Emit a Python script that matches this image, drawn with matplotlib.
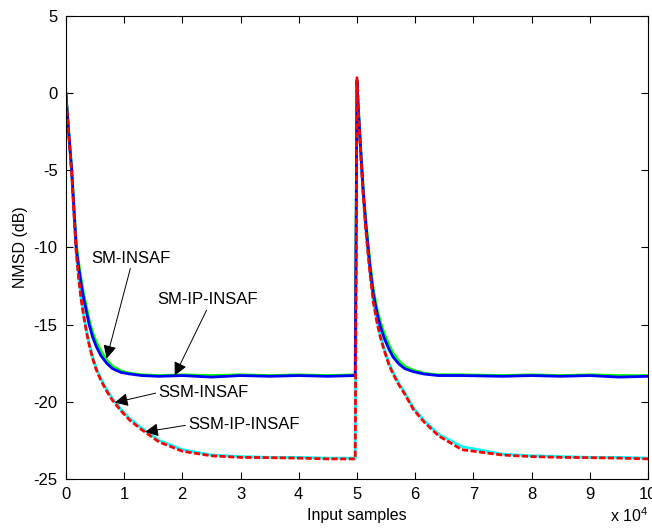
import numpy as np
import matplotlib
matplotlib.use("Agg")
import matplotlib.pyplot as plt
from matplotlib.ticker import FuncFormatter

plt.rcParams['font.family'] = ['Liberation Sans', 'DejaVu Sans']
plt.rcParams['mathtext.default'] = 'regular'
plt.rcParams['axes.unicode_minus'] = False

# sample positions (units of 1e4 samples), first run and offsets after the change at 5e4
n_seg1 = [0, 0.05, 0.10, 0.14, 0.18, 0.22, 0.26, 0.30, 0.35, 0.40, 0.46, 0.52, 0.60,
          0.70, 0.80, 0.95, 1.10, 1.30, 1.60, 2.0, 2.5, 3.0, 3.5, 4.0, 4.5, 4.97]
d_seg2 = [0.0, 0.02, 0.05, 0.08, 0.11, 0.15, 0.19, 0.23, 0.28, 0.34, 0.40, 0.47, 0.55,
          0.62, 0.72, 0.82, 0.97, 1.15, 1.40, 1.8, 2.5, 3.0, 3.5, 4.0, 4.5, 5.0]

# NMSD (dB)
sm_insaf_1 = [0, -2.5, -4.9, -7.4, -9.8, -11.0, -12.0, -12.9, -13.8, -14.7, -15.5, -16.1, -16.7,
              -17.3, -17.7, -18.0, -18.15, -18.25, -18.3, -18.25, -18.3, -18.25, -18.3, -18.25, -18.3, -18.25]
sm_insaf_2 = [0.8, -0.7, -2.7, -4.5, -6.3, -8.1, -9.7, -11.2, -12.7, -13.9, -14.8, -15.6, -16.3,
              -16.85, -17.35, -17.7, -17.95, -18.15, -18.25, -18.25, -18.3, -18.25, -18.3, -18.25, -18.3, -18.3]

sm_ip_1 = [0, -2.6, -5.0, -7.6, -10.1, -11.3, -12.3, -13.2, -14.1, -15.0, -15.8, -16.4, -17.0,
           -17.5, -17.85, -18.1, -18.2, -18.3, -18.35, -18.3, -18.4, -18.3, -18.35, -18.3, -18.35, -18.3]
sm_ip_2 = [0.8, -0.8, -2.8, -4.7, -6.5, -8.4, -10.0, -11.5, -13.0, -14.2, -15.1, -15.9, -16.6,
           -17.1, -17.55, -17.85, -18.05, -18.2, -18.3, -18.3, -18.35, -18.3, -18.35, -18.3, -18.4, -18.35]

ssm_insaf_1 = [0, -2.6, -5.1, -7.8, -10.3, -11.9, -13.2, -14.2, -15.3, -16.2, -17.1, -17.8, -18.5,
               -19.2, -19.8, -20.5, -21.1, -21.7, -22.5, -23.1, -23.45, -23.55, -23.6, -23.6, -23.65, -23.65]
ssm_insaf_2 = [0.9, -0.8, -2.9, -4.9, -6.7, -8.7, -10.3, -11.8, -13.4, -14.7, -15.7, -16.6, -17.5,
               -18.1, -18.8, -19.4, -20.4, -21.2, -22.1, -22.9, -23.4, -23.5, -23.55, -23.6, -23.6, -23.65]

ssm_ip_1 = [0, -2.7, -5.2, -7.9, -10.4, -12.0, -13.3, -14.3, -15.4, -16.3, -17.2, -17.9, -18.6,
            -19.3, -19.9, -20.6, -21.2, -21.8, -22.6, -23.2, -23.5, -23.6, -23.62, -23.65, -23.7, -23.7]
ssm_ip_2 = [1.0, -0.9, -3.0, -5.0, -6.8, -8.8, -10.4, -11.9, -13.5, -14.8, -15.8, -16.7, -17.6,
            -18.2, -18.9, -19.5, -20.5, -21.3, -22.2, -23.1, -23.45, -23.55, -23.6, -23.62, -23.65, -23.7]

x = np.concatenate([n_seg1, 5 + np.array(d_seg2)]) * 1e4

fig = plt.figure(figsize=(6.52, 5.31), dpi=100)
ax = fig.add_axes([0.101, 0.098, 0.893, 0.872])

ax.plot(x, sm_insaf_1 + sm_insaf_2, color='#00ff00', lw=2.0)
ax.plot(x, ssm_insaf_1 + ssm_insaf_2, color='#00ffff', lw=2.0)
ax.plot(x, sm_ip_1 + sm_ip_2, color='#0000ff', lw=2.0)
ax.plot(x, ssm_ip_1 + ssm_ip_2, color='#ff0000', lw=2.0, dashes=(2.2, 0.9))

ax.set_xlim(0, 1e5)
ax.set_ylim(-25, 5)
ax.set_xticks(np.arange(0, 1e5 + 1, 1e4))
ax.set_yticks(np.arange(-25, 6, 5))
ax.xaxis.set_major_formatter(FuncFormatter(lambda v, p: '%d' % round(v / 1e4)))
ax.tick_params(direction='in', top=True, right=True, length=5, labelsize=12, width=0.8, pad=6)
for s in ax.spines.values():
    s.set_linewidth(0.8)

ax.set_xlabel('Input samples', fontsize=11.5, labelpad=4)
ax.set_ylabel('NMSD (dB)', fontsize=11.5, labelpad=4)
ax.text(1.0, -0.06, r'x 10$^4$', transform=ax.transAxes, ha='right', va='top', fontsize=11.5)

# annotations
arr = dict(arrowstyle='-|>', color='black', lw=0.7, mutation_scale=20, shrinkA=0, shrinkB=0)
ax.annotate('SM-INSAF', xy=(0.70e4, -17.2), xytext=(1.12e4, -10.7), ha='center', va='center',
            fontsize=12, arrowprops=dict(arr, relpos=(0.5, 0.0)))
ax.annotate('SM-IP-INSAF', xy=(1.87e4, -18.3), xytext=(2.44e4, -13.4), ha='center', va='center',
            fontsize=12, arrowprops=dict(arr, relpos=(0.5, 0.0)))
ax.annotate('SSM-INSAF', xy=(0.84e4, -20.05), xytext=(1.59e4, -19.4), ha='left', va='center',
            fontsize=12, arrowprops=dict(arr, relpos=(0.0, 0.5)))
ax.annotate('SSM-IP-INSAF', xy=(1.36e4, -21.95), xytext=(2.1e4, -21.5), ha='left', va='center',
            fontsize=12, arrowprops=dict(arr, relpos=(0.0, 0.5)))

fig.savefig('out.png', dpi=100)
